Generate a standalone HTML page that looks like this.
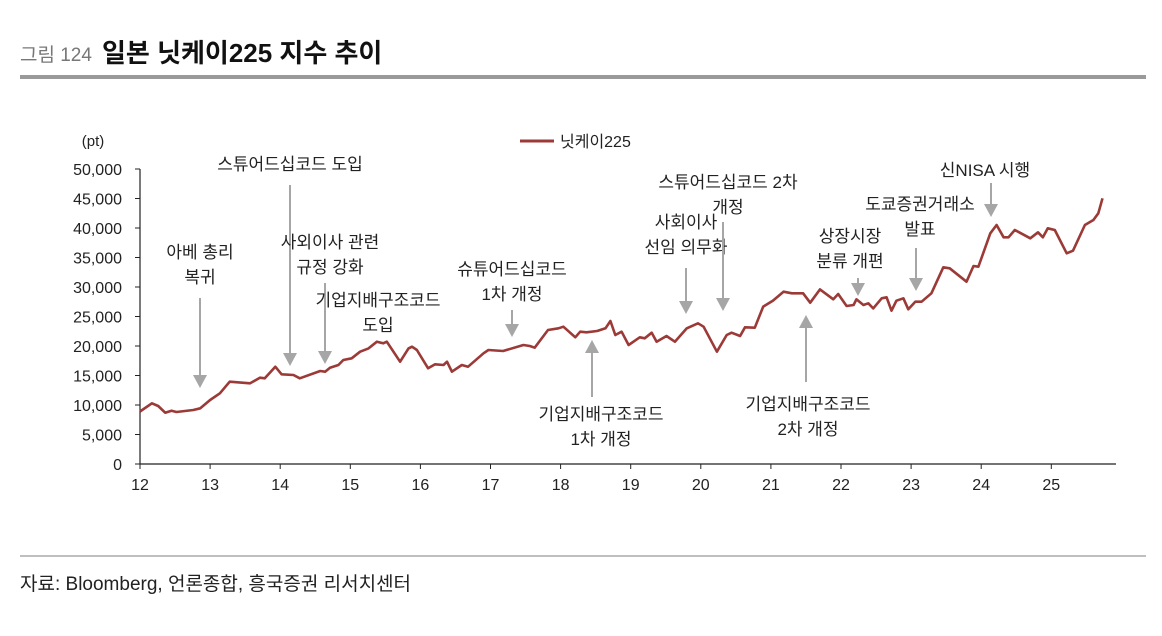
<!DOCTYPE html>
<html><head><meta charset="utf-8">
<style>
body{margin:0;background:#fff;width:1162px;height:631px;overflow:hidden;font-family:"Liberation Sans","Noto Sans CJK KR",sans-serif;}
svg text{font-family:"Liberation Sans","Noto Sans CJK KR",sans-serif;}
</style></head>
<body>
<svg id="chart" width="1162" height="631">
<text x="20" y="61" font-size="19" fill="#777">그림 124</text>
<text x="102" y="62" font-size="26" fill="#111" font-weight="bold">일본 닛케이225 지수 추이</text>
<rect x="20" y="75" width="1126" height="4" fill="#9a9a9a"/>
<text x="93" y="146" font-size="15" fill="#222" text-anchor="middle">(pt)</text>
<line x1="520" y1="141" x2="554" y2="141" stroke="#9b3a37" stroke-width="3"/>
<text x="560" y="147" font-size="16" fill="#222">닛케이225</text>
<g id="axes"></g>
<path id="series" fill="none" stroke="#9b3a37" stroke-width="2.6" stroke-linejoin="round"/>
<g id="notes" font-size="17" fill="#222" text-anchor="middle"></g>
<line x1="20" y1="556" x2="1146" y2="556" stroke="#aaa" stroke-width="1.5"/>
<text x="20" y="590" font-size="19" fill="#222">자료: Bloomberg, 언론종합, 흥국증권 리서치센터</text>
</svg>
<script>
const yearTicks=[12,13,14,15,16,17,18,19,20,21,22,23,24,25];
const valueTicks=[0,5000,10000,15000,20000,25000,30000,35000,40000,45000,50000];
const dates=[12.0,12.17,12.26,12.36,12.45,12.52,12.76,12.86,13.0,13.14,13.28,13.57,13.71,13.78,13.93,14.02,14.19,14.28,14.57,14.64,14.71,14.83,14.9,15.02,15.14,15.26,15.38,15.47,15.52,15.71,15.83,15.88,15.95,16.11,16.21,16.33,16.38,16.45,16.59,16.68,16.9,16.97,17.18,17.47,17.56,17.63,17.82,17.97,18.04,18.21,18.28,18.37,18.52,18.64,18.71,18.78,18.87,18.97,19.13,19.2,19.3,19.37,19.51,19.63,19.8,19.96,20.04,20.23,20.37,20.44,20.56,20.63,20.77,20.89,21.03,21.18,21.3,21.46,21.56,21.7,21.89,21.96,22.08,22.18,22.22,22.32,22.39,22.46,22.58,22.65,22.72,22.79,22.89,22.96,23.06,23.15,23.29,23.46,23.55,23.79,23.89,23.96,24.13,24.22,24.32,24.39,24.48,24.7,24.81,24.88,24.95,25.05,25.22,25.31,25.48,25.6,25.67,25.73];
const nikkei=[8900,10290,9830,8700,9030,8810,9150,9440,10850,11980,13950,13680,14630,14520,16490,15200,15080,14520,15760,15650,16330,16780,17630,17910,19040,19600,20730,20450,20730,17340,19600,19880,19320,16220,16900,16780,17340,15650,16780,16490,18760,19320,19150,20170,20000,19710,22710,23000,23270,21470,22420,22320,22540,23000,24240,21860,22420,20170,21470,21300,22260,20730,21700,20730,23000,23850,23270,19040,21860,22260,21700,23170,23110,26670,27690,29210,28930,28930,27340,29600,27910,28810,26780,26950,27910,26950,27230,26380,28080,28250,25980,27680,28080,26220,27510,27510,28930,33340,33170,30900,33560,33440,39100,40510,38420,38420,39660,38250,39270,38420,39950,39660,35710,36150,40510,41360,42490,45030];
const X0=140,PXY=70.1,Y0=464,PXV=295/50000;
const xs=v=>X0+(v-12)*PXY, ys=v=>Y0-v*PXV;
const NS="http://www.w3.org/2000/svg";
const ax=document.getElementById('axes');
function mk(tag,attrs,parent){const e=document.createElementNS(NS,tag);for(const k in attrs)e.setAttribute(k,attrs[k]);parent.appendChild(e);return e;}
let l=mk('line',{x1:X0,y1:ys(50000),x2:X0,y2:Y0,stroke:'#222','stroke-width':1.2},ax);


l=mk('line',{x1:X0,y1:Y0,x2:1116,y2:Y0,stroke:'#222','stroke-width':1.2},ax);


valueTicks.forEach(v=>{
 const t=mk('line',{x1:X0-5,y1:ys(v),x2:X0,y2:ys(v),stroke:'#222'},ax);
 
 
 const tx=mk('text',{x:122,y:ys(v)+6,'font-size':16,'text-anchor':'end',fill:'#222'},ax);
 tx.textContent=v.toLocaleString('en-US');
 
 
});
yearTicks.forEach(v=>{
 const t=mk('line',{x1:xs(v),y1:Y0,x2:xs(v),y2:Y0+5,stroke:'#222'},ax);
 
 
 const tx=mk('text',{x:xs(v),y:Y0+26,'font-size':16,'text-anchor':'middle',fill:'#222'},ax);
 tx.textContent=v;
 
 
});
document.getElementById('series').setAttribute('d',dates.map((d,i)=>(i?'L':'M')+xs(d).toFixed(1)+','+ys(nikkei[i]).toFixed(1)).join(''));
const notes=[
 [["스튜어드십코드 도입"],290,170,290,185,366],
 [["아베 총리","복귀"],200,258,200,298,388],
 [["사외이사 관련","규정 강화"],330,248,325,283,364],
 [["기업지배구조코드","도입"],378,306,null],
 [["슈튜어드십코드","1차 개정"],512,275,512,310,337],
 [["기업지배구조코드","1차 개정"],601,420,592,397,340],
 [["사회이사","선임 의무화"],686,228,686,268,314],
 [["스튜어드십코드 2차","개정"],728,188,723,222,311],
 [["기업지배구조코드","2차 개정"],808,410,806,382,315],
 [["상장시장","분류 개편"],850,242,858,278,296],
 [["도쿄증권거래소","발표"],920,210,916,248,291],
 [["신NISA 시행"],985,176,991,183,217]
];
const ng=document.getElementById('notes');
notes.forEach(n=>{
 n[0].forEach((s,i)=>{const t=mk('text',{x:n[1],y:n[2]+i*25},ng);t.textContent=s;
 
 });
 if(n[3]!==null){
  const x=n[3],a=n[4],b=n[5],dir=b>a?1:-1;
  const g=mk('g',{},ng);
  
  
  mk('line',{x1:x,y1:a,x2:x,y2:b-dir*12,stroke:'#a6a6a6','stroke-width':2},g);
  mk('polygon',{points:`${x-7},${b-dir*13} ${x+7},${b-dir*13} ${x},${b}`,fill:'#a6a6a6'},g);
 }
});
</script>
</body></html>
